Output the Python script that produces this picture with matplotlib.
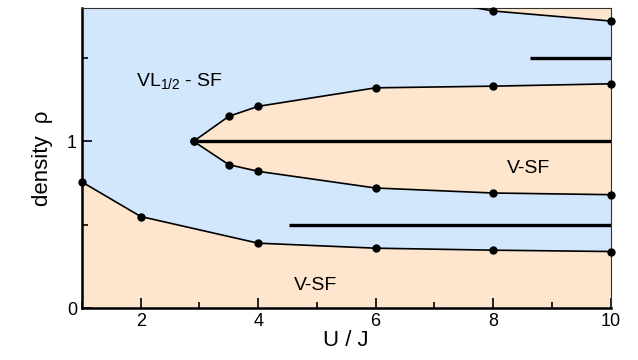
import matplotlib
matplotlib.use("Agg")
import matplotlib.pyplot as plt
from matplotlib.ticker import MultipleLocator

plt.rcParams['font.family'] = ['Liberation Sans', 'DejaVu Sans']
plt.rcParams['mathtext.fontset'] = 'custom'
plt.rcParams['mathtext.rm'] = 'Liberation Sans'
plt.rcParams['mathtext.it'] = 'Liberation Sans'

# phase boundaries (U/J, density)
low_u = [1, 2, 4, 6, 8, 10]
low_rho = [0.756, 0.549, 0.389, 0.359, 0.347, 0.339]

lobe_u = [2.9, 3.5, 4, 6, 8, 10]
lobe_top = [1.0, 1.150, 1.21, 1.321, 1.331, 1.345]
lobe_bot = [1.0, 0.860, 0.82, 0.72, 0.69, 0.68]

top_u = [6, 8, 10]
top_rho = [1.91, 1.782, 1.722]

# horizontal segments (start U/J, density)
seg_u0 = [2.9, 4.52, 8.63]
seg_rho = [1.0, 0.5, 1.5]

RHO_MAX = 1.8
blue = '#d2e6fc'
orange = '#fde6cd'

fig = plt.figure(figsize=(6.38, 3.6), dpi=100)
ax = fig.add_axes([0.1285, 0.1444, 0.8285, 0.8334])
ax.set_facecolor(blue)

ax.fill_between(low_u, 0, low_rho, color=orange, lw=0)
ax.fill_between(lobe_u, lobe_bot, lobe_top, color=orange, lw=0)
ax.fill_between(top_u, top_rho, 2.0, color=orange, lw=0)

for u, r in [(low_u, low_rho), (lobe_u, lobe_top), (lobe_u, lobe_bot)]:
    ax.plot(u, r, '-o', color='black', lw=1.2, ms=5, clip_on=False, zorder=3)

# upper boundary leaves the frame, so clip the line and only mark visible points
ax.plot(top_u, top_rho, '-', color='black', lw=1.2, zorder=3)
vis = [(u, r) for u, r in zip(top_u, top_rho) if r <= RHO_MAX]
ax.plot([v[0] for v in vis], [v[1] for v in vis], 'o', color='black', ms=5,
        clip_on=False, zorder=3)

for u0, r in zip(seg_u0, seg_rho):
    ax.plot([u0, 10], [r, r], color='black', lw=2.4, solid_capstyle='butt', zorder=3)

ax.set_xlim(1, 10)
ax.set_ylim(0, RHO_MAX)
ax.xaxis.set_major_locator(MultipleLocator(2))
ax.xaxis.set_minor_locator(MultipleLocator(1))
ax.yaxis.set_major_locator(MultipleLocator(1))
ax.yaxis.set_minor_locator(MultipleLocator(0.5))
ax.tick_params(which='both', direction='in', top=False, right=False, labelsize=13, width=1.2)
ax.tick_params(which='major', length=7)
ax.tick_params(which='minor', length=4)
ax.set_xticks([2, 4, 6, 8, 10])
ax.set_yticks([0, 1])

for side in ['left', 'bottom']:
    ax.spines[side].set_linewidth(1.8)
for side in ['top', 'right']:
    ax.spines[side].set_linewidth(0.8)
    ax.spines[side].set_color('#333333')

ax.text(1.92, 1.36, r'VL$_{1/2}$ - SF', fontsize=14, va='center', ha='left')
ax.text(8.61, 0.84, 'V-SF', fontsize=14, va='center', ha='center')
ax.text(4.98, 0.138, 'V-SF', fontsize=14, va='center', ha='center')

ax.set_xlabel('U / J', fontsize=16, labelpad=0)
ax.set_ylabel('density  ρ', fontsize=16, labelpad=10)

fig.savefig('out.png', dpi=100)
